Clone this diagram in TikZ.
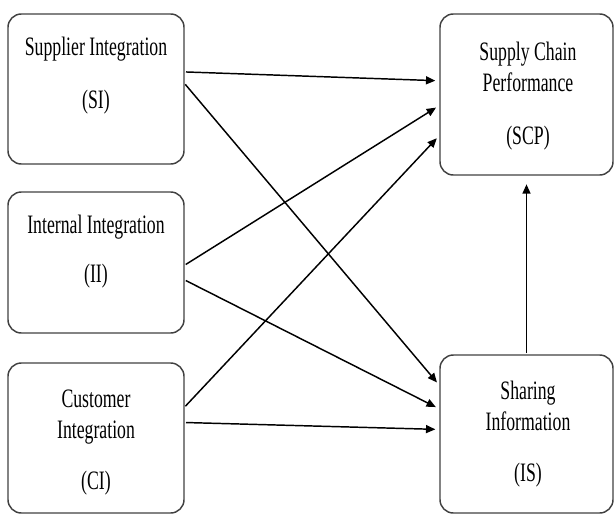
\documentclass[tikz,border=0pt]{standalone}
\usepackage{fontspec}
\setmainfont{Liberation Serif}
\usetikzlibrary{arrows.meta}

\begin{document}
\begin{tikzpicture}[x=0.75pt,y=-0.75pt,
  >={Triangle[length=7pt,width=6pt]},
  block/.style={draw=black!75,line width=1.1pt,rounded corners=10pt,
    minimum width=132pt,inner sep=0pt,outer sep=0pt},
  txt/.style={align=center,font=\fontsize{13.3}{15.5}\selectfont,
    yscale=1.5,transform shape},
  link/.style={->,line width=1.1pt,shorten >=3.5pt,shorten <=1.5pt}]

\useasboundingbox (0,0) rectangle (614,514);

% left blocks
\node[block,minimum height=112.5pt] (si) at (96,89) {};
\node[block,minimum height=105.75pt] (ii) at (96,262.5) {};
\node[block,minimum height=112.5pt] (ci) at (96,438) {};
% right blocks
\node[block,minimum width=129.75pt,minimum height=120.75pt] (scp) at (526.5,94.5) {};
\node[block,minimum width=129.75pt,minimum height=118.5pt] (is) at (526.5,434) {};

% texts
\node[txt] (sitxt) at (96,75.5) {Supplier Integration\\[11pt](SI)};
\node[txt] (iitxt) at (96,252) {Internal Integration\\[9pt](II)};
\node[txt] (citxt) at (96,442.5) {Customer\\Integration\\[10pt](CI)};
\node[txt] (scptxt) at (528,96) {Supply Chain\\Performance\\[11pt](SCP)};
\node[txt] (istxt) at (528,434.5) {Sharing\\Information\\[10pt](IS)};

% links
\draw[link] (si.11) -- (scp.171);
\draw[link] (si.4) -- (is.151);
\draw[link] (ii.358) -- (scp.187);
\draw[link] (ii.349) -- (is.164);
\draw[link] (ci.19) -- (scp.205);
\draw[link] (ci.10) -- (is.177);
\draw[link,shorten >=7pt] (is.north) -- (scp.south);

\end{tikzpicture}
\end{document}
